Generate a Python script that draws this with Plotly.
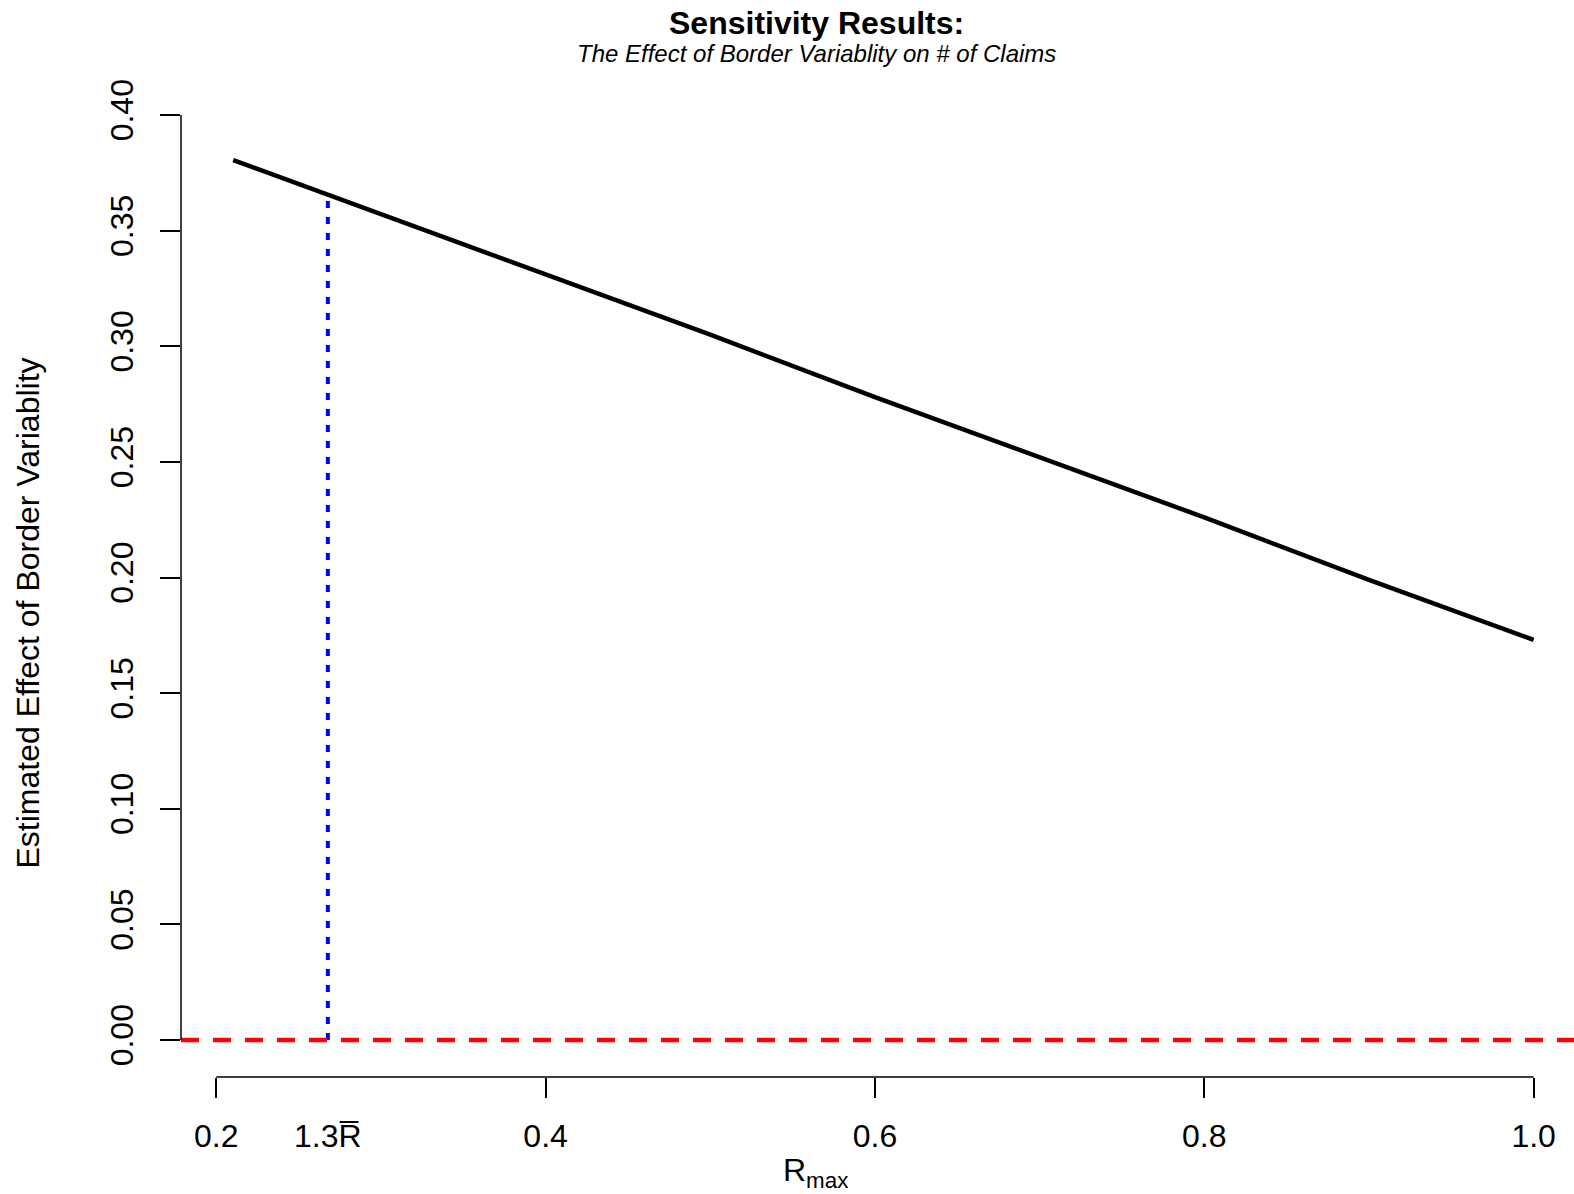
import plotly.graph_objects as go

# ---- data ----
rmax = [0.2103, 0.3, 0.4, 0.5, 0.6, 0.7, 0.8, 0.9, 1.0]
effect = [0.3805, 0.357, 0.331, 0.305, 0.278, 0.252, 0.226, 0.199, 0.173]
rbar_x = [0.2678, 0.2678]
rbar_y = [0.0, 0.3645]
x_ticks = [0.2, 0.4, 0.6, 0.8, 1.0]
x_ticktext = ["0.2", "0.4", "0.6", "0.8", "1.0"]
y_ticks = [0.0, 0.05, 0.10, 0.15, 0.20, 0.25, 0.30, 0.35, 0.40]
y_ticktext = ["0.00", "0.05", "0.10", "0.15", "0.20", "0.25", "0.30", "0.35", "0.40"]
rbar_label = "1.3R\u0305"

FONT = "Liberation Sans, Arial, Helvetica, sans-serif"
W, H = 1574, 1194
L, R, T, B = 180.7, 0.0, 78.0, 117.3
PW, PH = W - L - R, H - T - B


def px_x(p):
    return (p - L) / PW


def px_y(p):
    return (H - B - p) / PH


fig = go.Figure()
fig.add_trace(go.Scatter(x=rbar_x, y=rbar_y, mode="lines",
                         line=dict(color="#0000FF", width=4, dash="7px,9px"),
                         hoverinfo="skip", showlegend=False))
fig.add_trace(go.Scatter(x=rmax, y=effect, mode="lines",
                         line=dict(color="black", width=4.5),
                         hoverinfo="skip", showlegend=False))

# red dashed reference line at zero
fig.add_shape(type="line", xref="paper", yref="y", x0=0, x1=1, y0=0, y1=0,
              line=dict(color="#FF0000", width=4.5, dash="18px,14px"))
# R-style axis lines spanning only tick range
fig.add_shape(type="line", xref="x", yref="paper", x0=x_ticks[0], x1=x_ticks[-1], y0=0, y1=0,
              line=dict(color="black", width=1.5))
fig.add_shape(type="line", xref="paper", yref="y", x0=0, x1=0, y0=y_ticks[0], y1=y_ticks[-1],
              line=dict(color="black", width=1.5))

ann = []
ann.append(dict(text="<b>Sensitivity Results:</b>", x=px_x(816), y=px_y(23), xref="paper", yref="paper",
                showarrow=False, xanchor="center", yanchor="middle",
                font=dict(family=FONT, size=32, color="black")))
ann.append(dict(text="<i>The Effect of Border Variablity on # of Claims</i>", x=px_x(816), y=px_y(54),
                xref="paper", yref="paper", showarrow=False, xanchor="center", yanchor="middle",
                font=dict(family=FONT, size=24, color="black")))
ann.append(dict(text="Estimated Effect of Border Variablity", x=px_x(28), y=px_y(613),
                xref="paper", yref="paper", showarrow=False, xanchor="center", yanchor="middle",
                textangle=-90, font=dict(family=FONT, size=32, color="black")))
ann.append(dict(text="R<sub>max</sub>", x=px_x(815.5), y=px_y(1172),
                xref="paper", yref="paper", showarrow=False, xanchor="center", yanchor="middle",
                font=dict(family=FONT, size=32, color="black")))
ann.append(dict(text=rbar_label, x=rbar_x[0], y=px_y(1136), xref="x", yref="paper",
                showarrow=False, xanchor="center", yanchor="middle",
                font=dict(family=FONT, size=32, color="black")))
fig.update_layout(annotations=ann)

fig.update_layout(
    width=W, height=H,
    margin=dict(l=L, r=R, t=T, b=B, pad=0),
    paper_bgcolor="white", plot_bgcolor="white",
    showlegend=False,
    font=dict(family=FONT, size=32, color="black"),
    xaxis=dict(range=[0.1786, 1.0245], tickvals=x_ticks, ticktext=x_ticktext,
               ticks="outside", ticklen=20, tickwidth=1.5, tickcolor="black",
               showline=False, showgrid=False, zeroline=False,
               ticklabelstandoff=11,
               tickfont=dict(family=FONT, size=32, color="black")),
    yaxis=dict(range=[-0.016, 0.416], tickvals=y_ticks, ticktext=y_ticktext,
               ticks="outside", ticklen=20, tickwidth=1.5, tickcolor="black",
               showline=False, showgrid=False, zeroline=False,
               tickangle=-90, ticklabelstandoff=14,
               tickfont=dict(family=FONT, size=32, color="black")),
)

fig.write_html("out.html", config={"displayModeBar": False},
               post_script="document.body.style.margin='0';document.body.style.overflow='hidden';")
